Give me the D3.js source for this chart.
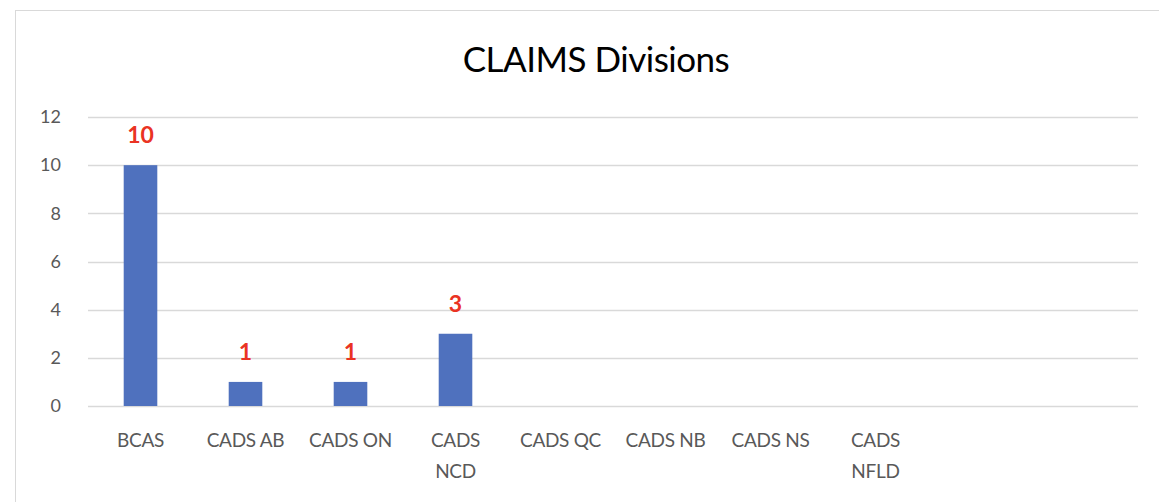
<!DOCTYPE html>
<html>
<head>
<meta charset="utf-8">
<script src="https://cdn.jsdelivr.net/npm/d3@7"></script>
<style>
  body { margin: 0; background: #fff; }
  text { font-family: Lato, "Open Sans", sans-serif; }
</style>
</head>
<body>
<div id="chart"></div>
<script>
// chart data
var categories = ["BCAS", "CADS AB", "CADS ON", "CADS NCD", "CADS QC", "CADS NB", "CADS NS", "CADS NFLD", "", " "];
var labelLines = [["BCAS"], ["CADS AB"], ["CADS ON"], ["CADS", "NCD"], ["CADS QC"], ["CADS NB"], ["CADS NS"], ["CADS", "NFLD"], [], []];
var values = [10, 1, 1, 3, null, null, null, null, null, null];
var yTicks = [0, 2, 4, 6, 8, 10, 12];

var svgwidth = 1159;
var svgheight = 502;

var margin = { top: 117, right: 21, bottom: 96, left: 88 };
var width = svgwidth - margin.left - margin.right;
var height = svgheight - margin.top - margin.bottom;

var svg = d3.select("#chart")
    .append("svg")
    .attr("width", svgwidth)
    .attr("height", svgheight);

// frame
svg.append("rect")
    .attr("x", 15.5).attr("y", 10.5)
    .attr("width", svgwidth).attr("height", svgheight)
    .attr("fill", "none")
    .attr("stroke", "#d9d9d9");

svg.append("text")
    .attr("x", 596)
    .attr("y", 72)
    .attr("text-anchor", "middle")
    .attr("font-size", "35px")
    .attr("fill", "#000")
    .attr("letter-spacing", "-0.5")
    .text("CLAIMS Divisions");

var chartGroup = svg.append("g")
    .attr("transform", `translate(${margin.left},${margin.top})`);

var xscale = d3.scaleBand()
    .domain(categories)
    .range([0, width])
    .paddingInner(0.68)
    .paddingOuter(0.34);

var yscale = d3.scaleLinear()
    .domain([0, 12])
    .range([height, 0]);

// gridlines
chartGroup.selectAll("line.grid")
    .data(yTicks)
    .enter()
    .append("line")
    .attr("class", "grid")
    .attr("x1", 0)
    .attr("x2", width)
    .attr("y1", d => Math.round(yscale(d)) + 0.5)
    .attr("y2", d => Math.round(yscale(d)) + 0.5)
    .attr("stroke", "#d9d9d9")
    .attr("stroke-width", 1.3);

// y axis labels
var yAxis = d3.axisLeft(yscale).tickValues(yTicks).tickSize(0).tickPadding(27);
var yg = chartGroup.append("g").call(yAxis);
yg.select(".domain").remove();
yg.selectAll("text")
    .attr("font-size", "18px")
    .attr("fill", "#595959")
    .style("font-family", "Lato, sans-serif");

// bars
var barData = categories.map((c, i) => ({ cat: c, value: values[i], lines: labelLines[i] }));

chartGroup.selectAll("rect.bar")
    .data(barData.filter(d => d.value != null))
    .enter()
    .append("rect")
    .attr("class", "bar")
    .attr("x", d => xscale(d.cat))
    .attr("y", d => yscale(d.value))
    .attr("width", xscale.bandwidth())
    .attr("height", d => height - yscale(d.value))
    .attr("fill", "#4f71be");

// value labels
chartGroup.selectAll("text.val")
    .data(barData.filter(d => d.value != null))
    .enter()
    .append("text")
    .attr("class", "val")
    .attr("x", d => xscale(d.cat) + xscale.bandwidth() / 2)
    .attr("y", d => yscale(d.value) - 22)
    .attr("text-anchor", "middle")
    .attr("font-size", "23px")
    .attr("font-weight", "bold")
    .attr("fill", "#ea3323")
    .text(d => d.value);

// category labels
var catGroup = chartGroup.selectAll("text.cat")
    .data(barData)
    .enter()
    .append("text")
    .attr("class", "cat")
    .attr("x", d => xscale(d.cat) + xscale.bandwidth() / 2)
    .attr("y", height + 41)
    .attr("text-anchor", "middle")
    .attr("font-size", "19px")
    .attr("letter-spacing", "-0.3")
    .attr("fill", "#595959");

catGroup.selectAll("tspan")
    .data(d => d.lines.map(l => ({ l: l, x: xscale(d.cat) + xscale.bandwidth() / 2 })))
    .enter()
    .append("tspan")
    .attr("x", d => d.x)
    .attr("dy", (d, i) => i === 0 ? 0 : 31)
    .text(d => d.l);
</script>
</body>
</html>
